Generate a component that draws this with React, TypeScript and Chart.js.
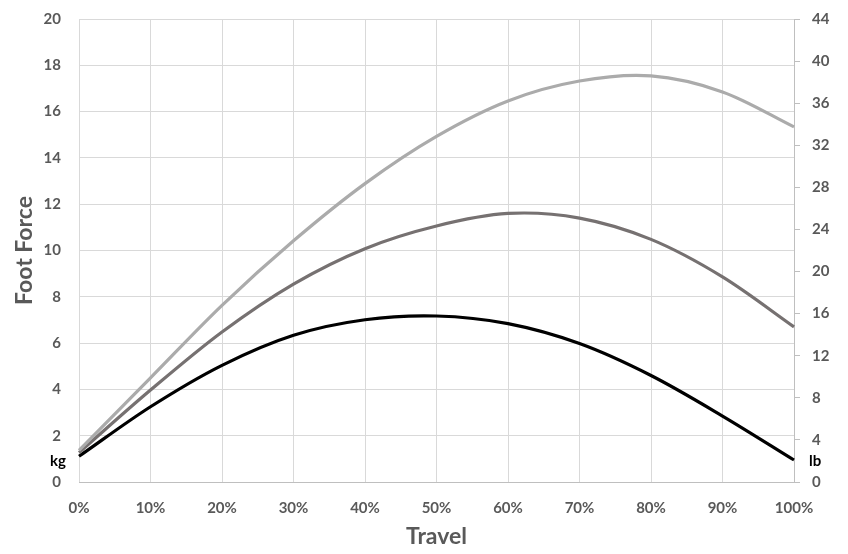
import React, { useEffect, useRef } from "react";
import { Chart, registerables } from "chart.js";

Chart.register(...registerables);

const travel = ["0%", "10%", "20%", "30%", "40%", "50%", "60%", "70%", "80%", "90%", "100%"];
const lightSeries = [1.37, 4.5, 7.63, 10.42, 12.89, 14.93, 16.46, 17.32, 17.54, 16.85, 15.34];
const midSeries = [1.27, 3.97, 6.48, 8.55, 10.08, 11.06, 11.6, 11.4, 10.48, 8.86, 6.7];
const darkSeries = [1.11, 3.25, 5.04, 6.34, 7.01, 7.17, 6.84, 5.98, 4.6, 2.85, 0.95];
const kgTicks = [0, 2, 4, 6, 8, 10, 12, 14, 16, 18, 20];
const lbTicks = [0, 4, 8, 12, 16, 20, 24, 28, 32, 36, 40, 44];

const FONT = "Lato, 'Open Sans', sans-serif";
const GREY = "#595959";

const unitLabels = {
  id: "unitLabels",
  afterDraw(chart: any) {
    const { ctx, chartArea } = chart;
    const y = chart.scales.y.getPixelForValue(0.9);
    ctx.save();
    ctx.font = `bold 15px ${FONT}`;
    ctx.fillStyle = "#000";
    ctx.textBaseline = "middle";
    ctx.textAlign = "right";
    ctx.fillText("kg", chartArea.left - 13, y);
    ctx.textAlign = "left";
    ctx.fillText("lb", chartArea.right + 15, y);
    ctx.restore();
  },
};

export default function App() {
  const ref = useRef<HTMLCanvasElement>(null);
  useEffect(() => {
    if (!ref.current) return;
    const mk = (data: number[], color: string) => ({
      data,
      borderColor: color,
      backgroundColor: color,
      borderWidth: 3.2,
      pointRadius: 0,
      tension: 0.33,
      fill: false,
    });
    const chart = new Chart(ref.current, {
      type: "line",
      data: {
        labels: travel,
        datasets: [
          mk(lightSeries, "#ababab"),
          mk(midSeries, "#767171"),
          mk(darkSeries, "#000000"),
        ],
      },
      options: {
        animation: false,
        responsive: true,
        maintainAspectRatio: false,
        layout: { padding: { top: 19, left: 0, right: 0, bottom: 0 } },
        plugins: { legend: { display: false }, tooltip: { enabled: false } },
        scales: {
          x: {
            offset: false,
            grid: { color: "#d9d9d9", drawTicks: false },
            border: { color: "#bfbfbf" },
            ticks: {
              color: GREY,
              font: { family: FONT, size: 15, weight: "bold" },
              padding: 17,
              maxRotation: 0,
            },
            title: {
              display: true,
              text: "Travel",
              color: GREY,
              font: { family: FONT, size: 23, weight: "bold" },
              padding: { top: 0, bottom: 4 },
            },
            afterFit: (s: any) => {
              s.height = 72;
            },
          },
          y: {
            position: "left",
            min: 0,
            max: 20,
            afterBuildTicks: (s: any) => {
              s.ticks = kgTicks.map((v) => ({ value: v }));
            },
            grid: { color: "#d9d9d9", drawTicks: false },
            border: { display: false },
            ticks: {
              color: GREY,
              font: { family: FONT, size: 15, weight: "bold" },
              padding: 18,
            },
            title: {
              display: true,
              text: "Foot Force",
              color: GREY,
              font: { family: FONT, size: 23, weight: "bold" },
              padding: { top: 11, bottom: 0 },
            },
            afterFit: (s: any) => {
              s.width = 79;
              s.paddingTop = 0;
              s.paddingBottom = 0;
            },
          },
          y2: {
            position: "right",
            min: 0,
            max: 44,
            afterBuildTicks: (s: any) => {
              s.ticks = lbTicks.map((v) => ({ value: v }));
            },
            grid: { drawOnChartArea: false, drawTicks: true, tickLength: 6, color: "#bfbfbf" },
            border: { color: "#bfbfbf" },
            ticks: {
              color: GREY,
              font: { family: FONT, size: 15, weight: "bold" },
              padding: 12,
            },
            afterFit: (s: any) => {
              s.width = 54;
              s.paddingTop = 0;
              s.paddingBottom = 0;
            },
          },
        },
      },
      plugins: [unitLabels],
    } as any);
    return () => chart.destroy();
  }, []);
  return (
    <div style={{ position: "absolute", left: 0, top: 0, width: 848, height: 554, background: "#fff" }}>
      <canvas ref={ref} />
    </div>
  );
}
